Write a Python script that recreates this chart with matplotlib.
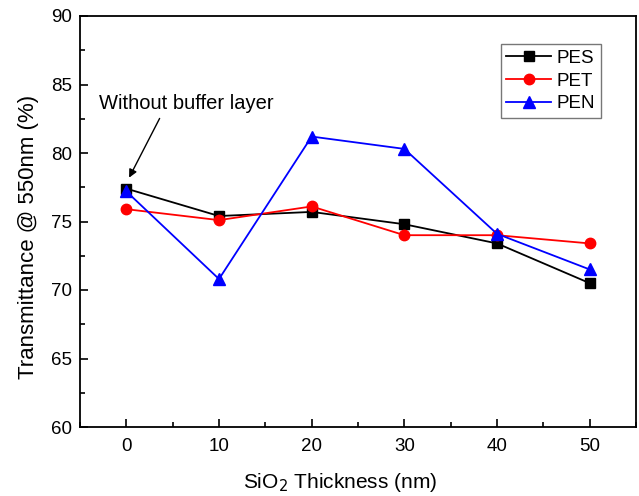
import matplotlib
matplotlib.use("Agg")
import matplotlib.pyplot as plt
from matplotlib.ticker import MultipleLocator

plt.rcParams['font.family'] = ['Liberation Sans', 'DejaVu Sans']

thickness = [0, 10, 20, 30, 40, 50]
pes = [77.4, 75.4, 75.7, 74.8, 73.4, 70.5]
pet = [75.9, 75.1, 76.1, 74.0, 74.0, 73.4]
pen = [77.2, 70.8, 81.2, 80.3, 74.1, 71.5]

fig = plt.figure(figsize=(6.39, 4.96), dpi=100)
ax = fig.add_axes([80/639, 1-427/496, (636-80)/639, (427-16)/496])

ax.plot(thickness, pes, color='black', marker='s', markersize=6.5, lw=1.3, label='PES')
ax.plot(thickness, pet, color='red', marker='o', markersize=7.5, lw=1.3, label='PET')
ax.plot(thickness, pen, color='blue', marker='^', markersize=8, lw=1.3, label='PEN')

ax.set_xlim(-5, 55)
ax.set_ylim(60, 90)
ax.xaxis.set_major_locator(MultipleLocator(10))
ax.xaxis.set_minor_locator(MultipleLocator(5))
ax.yaxis.set_major_locator(MultipleLocator(5))
ax.yaxis.set_minor_locator(MultipleLocator(2.5))
ax.tick_params(which='both', direction='in', labelsize=13.5, width=1.2)
ax.tick_params(which='major', length=6)
ax.tick_params(which='minor', length=3.5)
ax.tick_params(axis='x', pad=8)
ax.tick_params(axis='y', pad=6)
for s in ax.spines.values():
    s.set_linewidth(1.3)

ax.set_xlabel('SiO$_2$ Thickness (nm)', fontsize=15)
ax.set_ylabel('Transmittance @ 550nm (%)', fontsize=16)
ax.xaxis.set_label_coords(0.468, -0.108)
ax.yaxis.set_label_coords(-0.074, 0.462)

ax.annotate('Without buffer layer', xy=(0.3, 78.2), xytext=(-2.9, 83.6),
            fontsize=14.5, ha='left', va='center',
            arrowprops=dict(arrowstyle='-|>', color='black', lw=1.0,
                            shrinkA=2, shrinkB=0, mutation_scale=12,
                            relpos=(0.36, 0.0)))

leg = ax.legend(loc='upper right', bbox_to_anchor=((601-80)/(636-80), 1 - (44-16)/(427-16)),
                fontsize=13.5, frameon=True, fancybox=False, handlelength=2.4,
                borderpad=0.3, labelspacing=0.3, handletextpad=0.3, borderaxespad=0)
leg.get_frame().set_edgecolor('#555555')
leg.get_frame().set_linewidth(1.0)

fig.savefig('out.png', dpi=100)
